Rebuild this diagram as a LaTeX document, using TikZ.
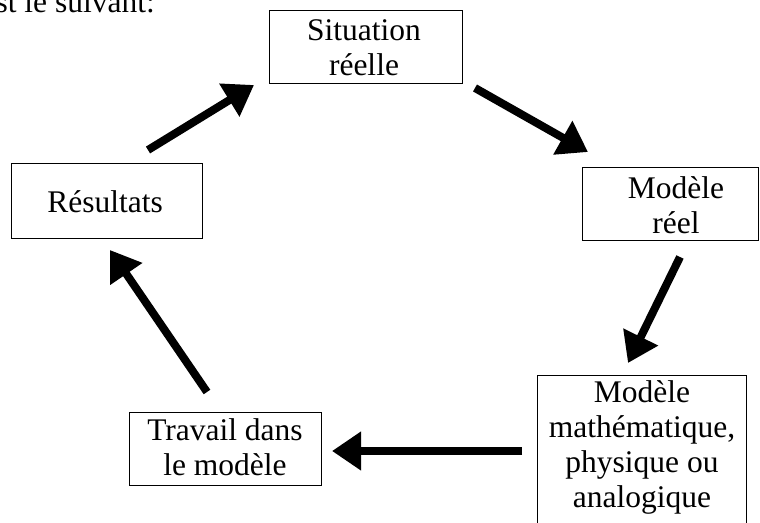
\documentclass[tikz,border=0pt]{standalone}
\usepackage{fontspec}
\setmainfont{Liberation Serif}
\usetikzlibrary{arrows.meta}
\begin{document}
\begin{tikzpicture}[x=1pt,y=-1pt,
  box/.style={draw=black,line width=0.9pt,rectangle,inner sep=0pt,anchor=north west},
  txt/.style={align=center,inner sep=0pt,anchor=north,font=\fontsize{31.5}{35}\selectfont},
  arr/.style={line width=8pt,-{Triangle[length=29pt,width=37pt]}}]
\useasboundingbox (0,0) rectangle (760,522);
\clip (0,0) rectangle (760,522);
% boxes
\node[box,minimum width=193pt,minimum height=73pt] (sit) at (269,10) {};
\node[box,minimum width=176pt,minimum height=73pt] (mr) at (582,167) {};
\node[box,minimum width=209pt,minimum height=170pt] (mm) at (537,375) {};
\node[box,minimum width=192pt,minimum height=73pt] (tr) at (129,412) {};
\node[box,minimum width=191pt,minimum height=75pt] (res) at (11,163) {};
% texts
\node[txt] (tsit) at (364,19.8) {Situation\\réelle};
\node[txt] (tmr) at (676,176) {Modèle\\réel};
\node[txt] (tmm) at (642,380.8) {Modèle\\mathématique,\\physique ou\\analogique};
\node[txt] (ttr) at (225,418.8) {Travail dans\\le modèle};
\node[txt] (tres) at (105,190.8) {Résultats};
\node[inner sep=0pt,anchor=base east,font=\fontsize{31.5}{35}\selectfont] (top) at (155,12.7) {est le suivant:};
% arrow ends
\coordinate (a1s) at (148,150); \coordinate (a1e) at (254,85);
\coordinate (a2s) at (475,88);  \coordinate (a2e) at (588,152);
\coordinate (a3s) at (680,257); \coordinate (a3e) at (628,363);
\coordinate (a4s) at (522,451); \coordinate (a4e) at (332,451);
\coordinate (a5s) at (207,392); \coordinate (a5e) at (110,250);
\draw[arr] (a1s) -- (a1e);
\draw[arr] (a2s) -- (a2e);
\draw[arr] (a3s) -- (a3e);
\draw[arr] (a4s) -- (a4e);
\draw[arr] (a5s) -- (a5e);
\end{tikzpicture}
\end{document}
